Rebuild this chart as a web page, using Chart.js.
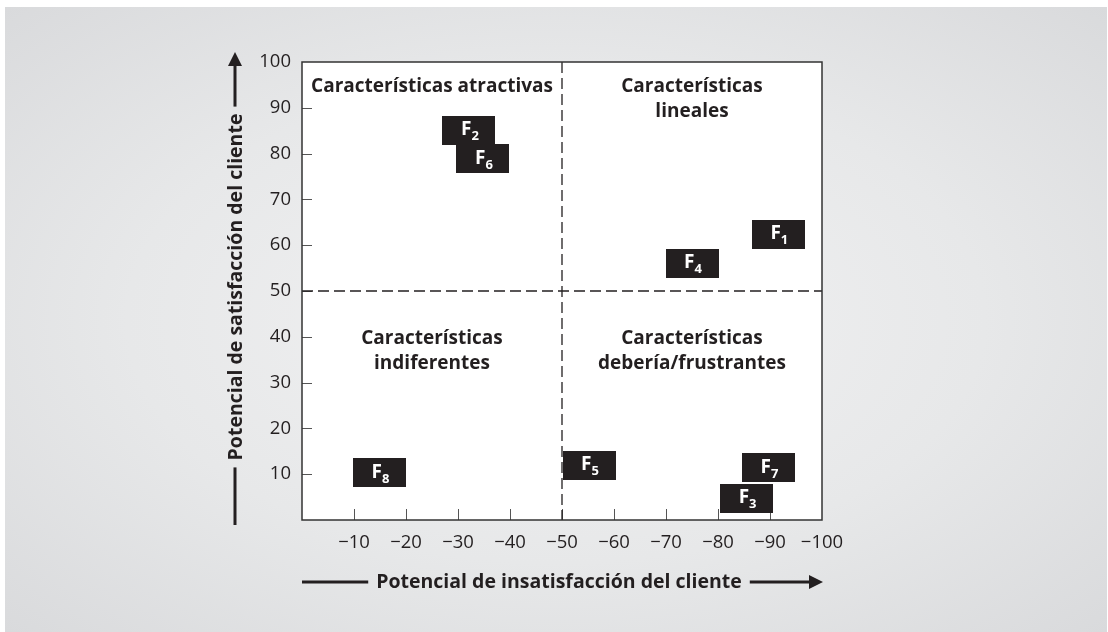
<!DOCTYPE html>
<html>
<head>
<meta charset="utf-8">
<script src="https://cdn.jsdelivr.net/npm/chart.js@4.4.0/dist/chart.umd.min.js"></script>
<style>
  html, body { margin: 0; padding: 0; background: #fff; }
  #wrap { position: relative; width: 1108px; height: 632px; overflow: hidden; }
  #panel {
    position: absolute; left: 5px; top: 7px; right: 1px; bottom: 0;
    background: radial-gradient(ellipse at 50% 50%, #f2f2f3 0%, #e7e8e9 55%, #d9dadc 100%);
  }
  canvas { position: absolute; left: 0; top: 0; }
</style>
</head>
<body>
<div id="wrap">
  <div id="panel"></div>
  <canvas id="myChart" width="1108" height="632"></canvas>
</div>
<script>
  // feature ids and their position (x = dissatisfaction, y = satisfaction)
  const featureIds = ['1', '2', '3', '4', '5', '6', '7', '8'];
  const dissatisfaction = [-91.6, -32.1, -85.5, -75, -55.2, -34.8, -89.7, -14.9];
  const satisfaction = [62.4, 85.1, 4.8, 56.1, 12, 78.9, 11.4, 10.3];

  // quadrant titles: top-left, top-right, bottom-left, bottom-right
  const quadrantTitles = [
    ['Características atractivas'],
    ['Características', 'lineales'],
    ['Características', 'indiferentes'],
    ['Características', 'debería/frustrantes']
  ];

  const xTitle = 'Potencial de insatisfacción del cliente';
  const yTitle = 'Potencial de satisfacción del cliente';

  const ink = '#231f20';
  const fontFamily = '"Open Sans", "Noto Sans", sans-serif';

  // draws the frame, tick marks, dashed split lines, quadrant titles, boxes and axis titles
  const matrixPlugin = {
    id: 'matrix',
    beforeDraw(chart) {
      const { ctx, chartArea: a } = chart;
      ctx.save();
      ctx.fillStyle = '#ffffff';
      ctx.fillRect(a.left, a.top, a.right - a.left, a.bottom - a.top);
      ctx.restore();
    },
    afterDatasetsDraw(chart) {
      const { ctx, chartArea: a, scales } = chart;
      const xs = scales.x, ys = scales.y;
      ctx.save();

      // tick marks drawn inside the frame
      ctx.strokeStyle = '#555';
      ctx.lineWidth = 1;
      ys.ticks.forEach(t => {
        if (t.value <= 0 || t.value >= 100) return;
        const py = Math.round(ys.getPixelForValue(t.value)) + 0.5;
        ctx.beginPath(); ctx.moveTo(a.left, py); ctx.lineTo(a.left + 10, py); ctx.stroke();
      });
      xs.ticks.forEach(t => {
        if (t.value >= 0 || t.value <= -100) return;
        const px = Math.round(xs.getPixelForValue(t.value)) + 0.5;
        ctx.beginPath(); ctx.moveTo(px, a.bottom); ctx.lineTo(px, a.bottom - 11); ctx.stroke();
      });

      // dashed split lines
      ctx.strokeStyle = ink;
      ctx.lineWidth = 1.3;
      ctx.setLineDash([11, 5]);
      const midX = xs.getPixelForValue(-50);
      const midY = ys.getPixelForValue(50);
      ctx.beginPath(); ctx.moveTo(midX, a.top); ctx.lineTo(midX, a.bottom); ctx.stroke();
      ctx.beginPath(); ctx.moveTo(a.left, midY); ctx.lineTo(a.right, midY); ctx.stroke();
      ctx.setLineDash([]);

      // frame
      ctx.strokeStyle = '#333';
      ctx.lineWidth = 1.5;
      ctx.strokeRect(a.left, a.top, a.right - a.left, a.bottom - a.top);

      // quadrant titles
      ctx.fillStyle = ink;
      ctx.font = 'bold 19px ' + fontFamily;
      ctx.textAlign = 'center';
      ctx.textBaseline = 'alphabetic';
      const leftC = (a.left + midX) / 2, rightC = (midX + a.right) / 2;
      const spots = [
        [leftC, a.top + 30], [rightC, a.top + 30],
        [leftC, midY + 53], [rightC, midY + 53]
      ];
      quadrantTitles.forEach((lines, i) => {
        lines.forEach((line, j) => ctx.fillText(line, spots[i][0], spots[i][1] + j * 25));
      });

      // feature boxes
      const meta = chart.getDatasetMeta(0);
      meta.data.forEach((el, i) => {
        const cx = el.x, cy = el.y;
        ctx.fillStyle = ink;
        ctx.fillRect(Math.round(cx - 26.5), Math.round(cy - 14.5), 53, 29);
        ctx.fillStyle = '#ffffff';
        ctx.textAlign = 'left';
        ctx.font = 'bold 19px ' + fontFamily;
        const wF = ctx.measureText('F').width;
        ctx.font = 'bold 13px ' + fontFamily;
        const wS = ctx.measureText(featureIds[i]).width;
        const x0 = cx - (wF + wS) / 2 + 1;
        ctx.font = 'bold 19px ' + fontFamily;
        ctx.fillText('F', x0, cy + 5);
        ctx.font = 'bold 13px ' + fontFamily;
        ctx.fillText(featureIds[i], x0 + wF, cy + 10);
      });

      // axis titles with arrows
      ctx.fillStyle = ink;
      ctx.strokeStyle = ink;
      ctx.lineWidth = 3;
      ctx.font = 'bold 19.5px ' + fontFamily;
      ctx.textAlign = 'center';
      ctx.textBaseline = 'middle';

      const tx = (a.left + a.right) / 2 - 3, ty = a.bottom + 62;
      const wx = ctx.measureText(xTitle).width;
      ctx.fillText(xTitle, tx, ty);
      ctx.beginPath(); ctx.moveTo(a.left, ty); ctx.lineTo(tx - wx / 2 - 8, ty); ctx.stroke();
      ctx.beginPath(); ctx.moveTo(tx + wx / 2 + 8, ty); ctx.lineTo(a.right - 10, ty); ctx.stroke();
      ctx.beginPath();
      ctx.moveTo(a.right + 1, ty); ctx.lineTo(a.right - 13, ty - 7); ctx.lineTo(a.right - 13, ty + 7);
      ctx.closePath(); ctx.fill();

      const vx = 236, vy = (a.top + a.bottom) / 2 - 4;
      const wy = ctx.measureText(yTitle).width;
      ctx.save();
      ctx.translate(vx, vy);
      ctx.rotate(-Math.PI / 2);
      ctx.fillText(yTitle, 0, 0);
      ctx.restore();
      ctx.beginPath(); ctx.moveTo(vx - 1, a.bottom + 5); ctx.lineTo(vx - 1, vy + wy / 2 + 7); ctx.stroke();
      ctx.beginPath(); ctx.moveTo(vx - 1, vy - wy / 2 - 7); ctx.lineTo(vx - 1, a.top); ctx.stroke();
      ctx.beginPath();
      ctx.moveTo(vx - 1, a.top - 10); ctx.lineTo(vx - 8, a.top + 4); ctx.lineTo(vx + 6, a.top + 4);
      ctx.closePath(); ctx.fill();

      ctx.restore();
    }
  };

  const ctx = document.getElementById('myChart').getContext('2d');

  const myChart = new Chart(ctx, {
    type: 'scatter',
    data: {
      datasets: [{
        data: featureIds.map((id, i) => ({ x: dissatisfaction[i], y: satisfaction[i] })),
        pointRadius: 0, // boxes are drawn by the plugin
        pointHoverRadius: 0
      }]
    },
    options: {
      responsive: false,
      animation: false,
      layout: { padding: { left: 0, top: 62, right: 286, bottom: 0 } },
      plugins: {
        legend: { display: false },
        tooltip: { enabled: false }
      },
      scales: {
        x: {
          type: 'linear',
          min: -100,
          max: 0,
          reverse: true, // 0 on the left, -100 on the right
          afterFit: s => { s.height = 112; },
          grid: { display: false, drawTicks: false },
          border: { display: false },
          ticks: {
            stepSize: 10,
            padding: 12,
            autoSkip: false,
            maxRotation: 0,
            color: ink,
            font: { family: fontFamily, size: 18.5 },
            callback: v => v === 0 ? '' : '\u2212' + Math.abs(v)
          }
        },
        y: {
          type: 'linear',
          min: 0,
          max: 100,
          afterFit: s => { s.width = 302; },
          grid: { display: false, drawTicks: false },
          border: { display: false },
          ticks: {
            stepSize: 10,
            padding: 11,
            color: ink,
            font: { family: fontFamily, size: 18.5 },
            callback: v => v === 0 ? '' : v
          }
        }
      }
    },
    plugins: [matrixPlugin]
  });
</script>
</body>
</html>
